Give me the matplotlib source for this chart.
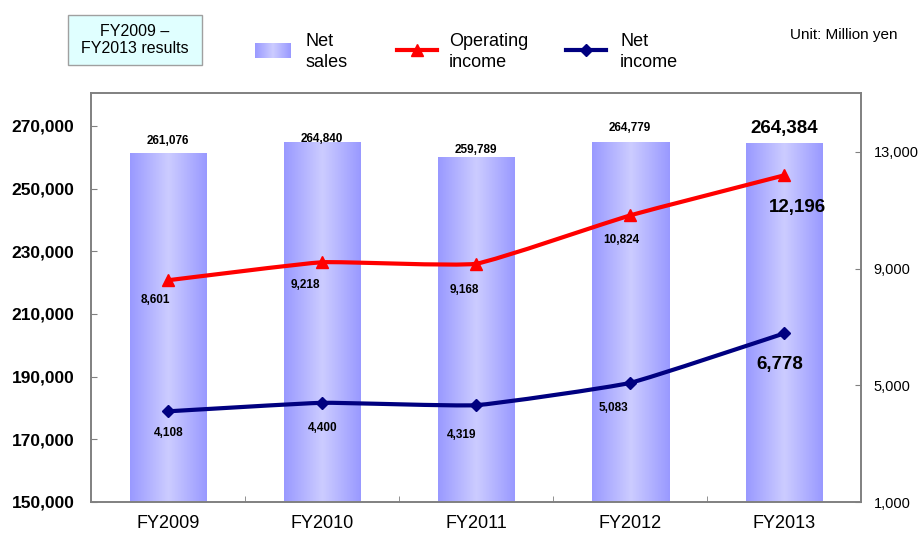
import numpy as np
import matplotlib
matplotlib.use('Agg')
import matplotlib.pyplot as plt
from matplotlib.path import Path
from matplotlib.patches import PathPatch, Rectangle
from matplotlib.colors import LinearSegmentedColormap
from matplotlib.lines import Line2D

plt.rcParams['font.family'] = ['Liberation Sans', 'DejaVu Sans']

# ---- data ----
categories = ['FY2009', 'FY2010', 'FY2011', 'FY2012', 'FY2013']
net_sales = [261076, 264840, 259789, 264779, 264384]
operating_income = [8601, 9218, 9168, 10824, 12196]
net_income = [4108, 4400, 4319, 5083, 6778]
left_ticks = [150000, 170000, 190000, 210000, 230000, 250000, 270000]
right_ticks = [1000, 5000, 9000, 13000]

# label offsets in pixels (dx, dy up-positive)
sales_off = [(0, 13), (0, 3), (0, 8), (0, 14), (0, 15)]
op_off = [(-13, -20), (-17, -23), (-12, -26), (-9, -25), (13, -32)]
ni_off = [(1, -22), (1, -25), (-14, -30), (-17, -25), (-4, -31)]

GRAY = '#808080'
grad_cmap = LinearSegmentedColormap.from_list('g', ['#9999FF', '#CCCCFF', '#9999FF'])
grad = np.linspace(0, 1, 256).reshape(1, -1)

fig = plt.figure(figsize=(9.22, 5.36), dpi=100)
ax = fig.add_axes([91/922, 34/536, 770/922, 409/536])
x = np.arange(len(categories))
width = 0.5
ax.set_xlim(-0.5, len(categories) - 0.5)
ax.set_ylim(150000, 280500)
ybot = ax.get_ylim()[0]
bars = ax.bar(x, net_sales, width, color='none', edgecolor='none')
for b in bars:
    x0 = b.get_x()
    ax.imshow(grad, extent=[x0, x0 + b.get_width(), ybot, b.get_height()],
              aspect='auto', cmap=grad_cmap, zorder=1, interpolation='bilinear')
ax.set_xlim(-0.5, len(categories) - 0.5)
ax.set_ylim(150000, 280500)
ax.set_yticks(left_ticks)
ax.set_yticklabels([f'{v:,}' for v in left_ticks], fontsize=12.5, fontweight='bold')
ax.set_xticks(x)
ax.set_xticklabels(categories, fontsize=13)
ax.set_xticks(x[:-1] + 0.5, minor=True)
ax.tick_params(axis='x', which='major', length=0, pad=9)
ax.tick_params(axis='x', which='minor', direction='in', length=4, color=GRAY)
ax.tick_params(axis='y', direction='in', length=4, color=GRAY, pad=12)
for s in ax.spines.values():
    s.set_color(GRAY)
    s.set_linewidth(1.2)

for i, v in enumerate(net_sales):
    big = i == len(net_sales) - 1
    ax.annotate(f'{v:,}', (x[i], v), xytext=sales_off[i], textcoords='offset pixels',
                ha='center', va='center', fontweight='bold',
                fontsize=13.5 if big else 8.5, zorder=5)

ax2 = ax.twinx()
ax2.set_ylim(1000, 15020)
ax2.set_yticks(right_ticks)
ax2.set_yticklabels([f'{v:,}' for v in right_ticks], fontsize=10.5)
ax2.tick_params(axis='y', direction='in', length=4, color=GRAY, pad=9)
for s in ax2.spines.values():
    s.set_color(GRAY)
    s.set_linewidth(1.2)


def smooth_path(xs, ys, k=16.0):
    pts = np.column_stack([xs, ys]).astype(float)
    n = len(pts)
    verts = [pts[0]]
    codes = [Path.MOVETO]
    for i in range(n - 1):
        p0 = pts[i - 1] if i > 0 else pts[i]
        p1 = pts[i]
        p2 = pts[i + 1]
        p3 = pts[i + 2] if i + 2 < n else pts[i + 1]
        verts += [p1 + (p2 - p0) / k, p2 - (p3 - p1) / k, p2]
        codes += [Path.CURVE4] * 3
    return Path(verts, codes)


for vals, col, mk, ms, offs in [(operating_income, '#FF0000', '^', 8, op_off),
                                 (net_income, '#000080', 'D', 6, ni_off)]:
    ax2.add_patch(PathPatch(smooth_path(x, vals), fill=False, edgecolor=col,
                            lw=3, zorder=3, capstyle='round', joinstyle='round'))
    ax2.plot(x, vals, linestyle='none', marker=mk, markersize=ms, color=col, zorder=4)
    for i, v in enumerate(vals):
        big = i == len(vals) - 1
        ax2.annotate(f'{v:,}', (x[i], v), xytext=offs[i], textcoords='offset pixels',
                     ha='center', va='center', fontweight='bold',
                     fontsize=13.5 if big else 8.5, zorder=5)

# ---- legend / header in pixel coordinates ----
lax = fig.add_axes([0, 0, 1, 1], zorder=10)
lax.patch.set_visible(False)
lax.axis('off')
lax.add_patch(Rectangle((68, 15), 134, 50, facecolor='#E0FFFF', edgecolor='#A0A0A0', lw=1))
lax.text(135, 40, 'FY2009 –\nFY2013 results', ha='center', va='center', fontsize=11.5,
         linespacing=1.15)
lax.imshow(grad, extent=(255, 291, 58, 43), aspect='auto', cmap=grad_cmap,
           interpolation='bilinear')
lax.text(305, 52, 'Net\nsales', ha='left', va='center', fontsize=13, linespacing=1.3)
lax.add_line(Line2D([397, 437], [50, 50], color='#FF0000', lw=3))
lax.add_line(Line2D([417], [50], color='#FF0000', marker='^', markersize=8, linestyle='none'))
lax.text(449, 52, 'Operating\nincome', ha='left', va='center', fontsize=13, linespacing=1.3)
lax.add_line(Line2D([566, 606], [50, 50], color='#000080', lw=3))
lax.add_line(Line2D([586], [50], color='#000080', marker='D', markersize=6, linestyle='none'))
lax.text(620, 52, 'Net\nincome', ha='left', va='center', fontsize=13, linespacing=1.3)
lax.text(790, 35, 'Unit: Million yen', ha='left', va='center', fontsize=11)
lax.set_xlim(0, 922)
lax.set_ylim(536, 0)

fig.savefig('out.png', dpi=100)
